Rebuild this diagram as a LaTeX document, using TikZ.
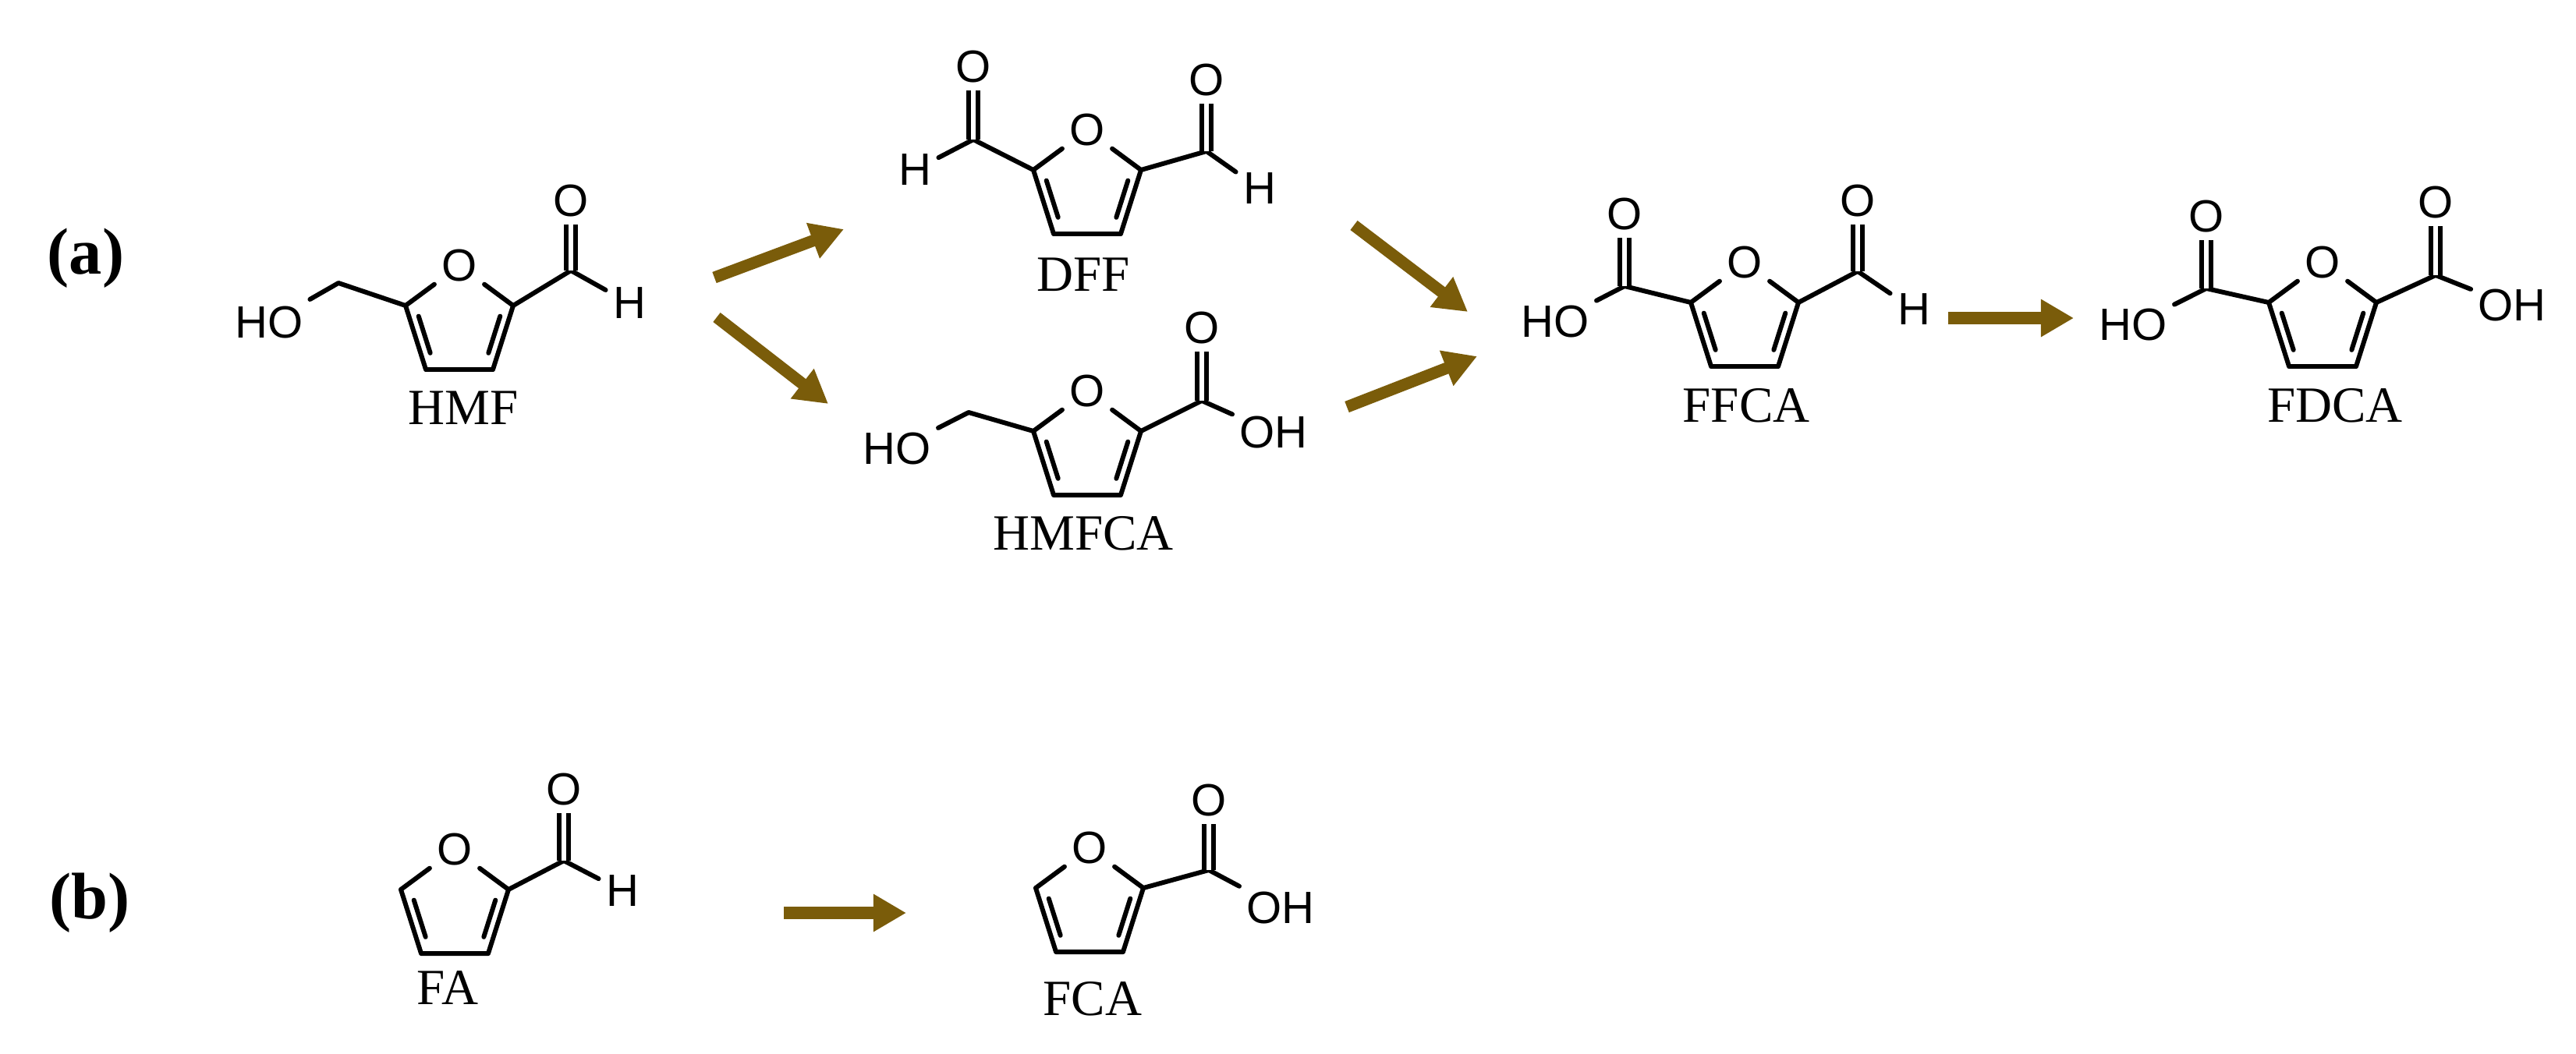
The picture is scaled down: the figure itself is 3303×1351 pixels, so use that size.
\documentclass[tikz,border=0pt]{standalone}
\usepackage{fontspec}
\setmainfont{Liberation Serif}
\newfontfamily\atomfont{Liberation Sans}
\usetikzlibrary{calc,arrows.meta}
\definecolor{arr}{HTML}{7A5C0A}
\tikzset{
  atom/.style={font=\atomfont\fontsize{16.5}{18}\selectfont,inner sep=2.5pt},
  molname/.style={font=\fontsize{18.5}{20}\selectfont,inner sep=0pt},
  panel/.style={font=\bfseries\fontsize{24}{26}\selectfont,inner sep=0pt},
  bond/.style={line width=1.7pt,line join=round,line cap=round},
  dbond/.style={line width=1.7pt,double,double distance=1.5pt},
  rxn/.style={arr,line width=4.3pt,-{Triangle[length=12pt,width=13pt]}}
}
\newcommand\furanring[3]{%
  \coordinate (#1c) at (#2,#3);
  \node[atom] (#1O) at ($(#1c)+(0,-73)$) {O};
  \coordinate (#1C2) at ($(#1c)+(69,-22)$);
  \coordinate (#1C3) at ($(#1c)+(43,60)$);
  \coordinate (#1C4) at ($(#1c)+(-43,60)$);
  \coordinate (#1C5) at ($(#1c)+(-69,-22)$);
  \draw[bond] (#1O) -- (#1C2) -- (#1C3) -- (#1C4) -- (#1C5) -- (#1O);
  \coordinate (#1i2) at ($(#1c)!0.8!(#1C2)$);
  \coordinate (#1i3) at ($(#1c)!0.8!(#1C3)$);
  \coordinate (#1i4) at ($(#1c)!0.8!(#1C4)$);
  \coordinate (#1i5) at ($(#1c)!0.8!(#1C5)$);
  \draw[bond] ($(#1i2)!0.14!(#1i3)$) -- ($(#1i3)!0.14!(#1i2)$);
  \draw[bond] ($(#1i5)!0.14!(#1i4)$) -- ($(#1i4)!0.14!(#1i5)$);
}
\begin{document}
\begin{tikzpicture}[x=0.01cm,y=-0.01cm]
\path[use as bounding box] (0,0) rectangle (3303,1351);
\node[panel] (la) at (110,331) {(a)};
\node[panel] (lb) at (115,1158) {(b)};

% HMF
\furanring{h}{589}{414}
\coordinate (hC) at (732,347); \node[atom] (hOx) at (732,258) {O}; \node[atom] (hH) at (807,389) {H};
\coordinate (hM) at (434,363); \node[atom] (hHO) at (345,414) {HO};
\draw[bond] (hC2) -- (hC) -- (hH); \draw[dbond] (hC) -- (hOx);
\draw[bond] (hC5) -- (hM) -- (hHO);
\node[molname] (hl) at (594,523) {HMF};

% DFF
\furanring{d}{1394}{240}
\coordinate (dCa) at (1248,179); \node[atom] (dOa) at (1248,86) {O}; \node[atom] (dHa) at (1173,218) {H};
\coordinate (dCb) at (1547,194); \node[atom] (dOb) at (1547,103) {O}; \node[atom] (dHb) at (1615,242) {H};
\draw[bond] (dC5) -- (dCa) -- (dHa); \draw[dbond] (dCa) -- (dOa);
\draw[bond] (dC2) -- (dCb) -- (dHb); \draw[dbond] (dCb) -- (dOb);
\node[molname] (dl) at (1389,352) {DFF};

% HMFCA
\furanring{m}{1394}{575}
\coordinate (mC) at (1541,514); \node[atom] (mOx) at (1541,421) {O}; \node[atom] (mOH) at (1633,555) {OH};
\coordinate (mM) at (1242,529); \node[atom] (mHO) at (1150,576) {HO};
\draw[bond] (mC2) -- (mC) -- (mOH); \draw[dbond] (mC) -- (mOx);
\draw[bond] (mC5) -- (mM) -- (mHO);
\node[molname] (ml) at (1389,684) {HMFCA};

% FFCA
\furanring{f}{2237}{410}
\coordinate (fCa) at (2083,367); \node[atom] (fOa) at (2083,275) {O}; \node[atom] (fHO) at (1994,413) {HO};
\coordinate (fCb) at (2382,348); \node[atom] (fOb) at (2382,258) {O}; \node[atom] (fH) at (2454,397) {H};
\draw[bond] (fC5) -- (fCa) -- (fHO); \draw[dbond] (fCa) -- (fOa);
\draw[bond] (fC2) -- (fCb) -- (fH); \draw[dbond] (fCb) -- (fOb);
\node[molname] (fl) at (2239,520) {FFCA};

% FDCA
\furanring{g}{2978}{410}
\coordinate (gCa) at (2829,370); \node[atom] (gOa) at (2829,278) {O}; \node[atom] (gHO) at (2735,417) {HO};
\coordinate (gCb) at (3123,353); \node[atom] (gOb) at (3123,260) {O}; \node[atom] (gOH) at (3221,392) {OH};
\draw[bond] (gC5) -- (gCa) -- (gHO); \draw[dbond] (gCa) -- (gOa);
\draw[bond] (gC2) -- (gCb) -- (gOH); \draw[dbond] (gCb) -- (gOb);
\node[molname] (gl) at (2994,520) {FDCA};

% FA
\furanring{a}{583}{1163}
\coordinate (aC) at (723,1104); \node[atom] (aOx) at (723,1013) {O}; \node[atom] (aH) at (798,1143) {H};
\draw[bond] (aC2) -- (aC) -- (aH); \draw[dbond] (aC) -- (aOx);
\node[molname] (al) at (574,1267) {FA};

% FCA
\furanring{b}{1397}{1161}
\coordinate (bC) at (1550,1116); \node[atom] (bOx) at (1550,1027) {O}; \node[atom] (bOH) at (1642,1165) {OH};
\draw[bond] (bC2) -- (bC) -- (bOH); \draw[dbond] (bC) -- (bOx);
\node[molname] (bl) at (1401,1281) {FCA};

% arrows
\coordinate (r1a) at (916,356); \coordinate (r1b) at (1082,294);
\coordinate (r2a) at (919,407); \coordinate (r2b) at (1062,518);
\coordinate (r3a) at (1736,289); \coordinate (r3b) at (1882,400);
\coordinate (r4a) at (1727,522); \coordinate (r4b) at (1894,457);
\coordinate (r5a) at (2498,408); \coordinate (r5b) at (2659,408);
\coordinate (r6a) at (1005,1171); \coordinate (r6b) at (1162,1171);
\foreach \i in {1,...,6} \draw[rxn] (r\i a) -- (r\i b);
\end{tikzpicture}
\end{document}
